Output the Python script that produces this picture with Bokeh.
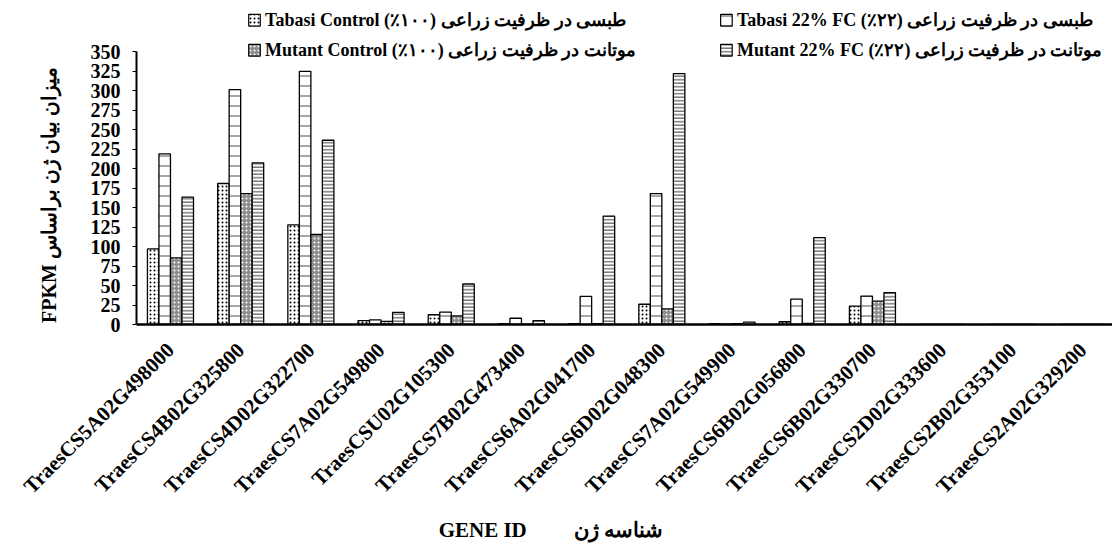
from math import pi
from bokeh.plotting import figure
from bokeh.models import Range1d, FixedTicker, Label
from bokeh.embed import file_html
from bokeh.resources import INLINE

genes = ["TraesCS5A02G498000", "TraesCS4B02G325800", "TraesCS4D02G322700",
         "TraesCS7A02G549800", "TraesCSU02G105300", "TraesCS7B02G473400",
         "TraesCS6A02G041700", "TraesCS6D02G048300", "TraesCS7A02G549900",
         "TraesCS6B02G056800", "TraesCS6B02G330700", "TraesCS2D02G333600",
         "TraesCS2B02G353100", "TraesCS2A02G329200"]

tabasi_control = [97, 181, 128, 5, 12.5, 1, 1, 26, 1, 3.5, 23.5, 0, 0, 0]
tabasi_22fc = [219, 301.5, 325, 6, 16, 8, 36, 168, 0.3, 32.5, 36.5, 0, 0, 0]
mutant_control = [85.5, 168, 115.5, 4, 11, 0.3, 1, 20, 1, 1.5, 30, 0, 0, 0]
mutant_22fc = [163.5, 207.5, 236.5, 15.5, 52, 5, 139, 322, 3, 111.5, 41, 0, 0, 0]

series_names = [
    "Tabasi Control (٪۱۰۰) طبسی در ظرفیت زراعی",
    "Tabasi 22% FC (٪۲۲) طبسی در ظرفیت زراعی",
    "Mutant Control (٪۱۰۰) موتانت در ظرفیت زراعی",
    "Mutant 22% FC (٪۲۲) موتانت در ظرفیت زراعی",
]
y_ticks = list(range(0, 351, 25))
NB = "\u00a0"
y_title = "FPKM" + NB + "میزان بیان ژن براساس" + NB * 13
x_title = "GENE ID" + NB * 9 + "شناسه ژن" + NB * 28

SERIF = "Liberation Serif"

styles = [
    dict(fill_color="white", hatch_pattern="dot", hatch_color="black", hatch_scale=4, hatch_weight=3),
    dict(fill_color="white", hatch_pattern="horizontal_line", hatch_color="#8a8a8a", hatch_scale=10, hatch_weight=1.5),
    dict(fill_color="#8c8c8c", hatch_pattern="dot", hatch_color="white", hatch_scale=4, hatch_weight=1.5),
    dict(fill_color="white", hatch_pattern="horizontal_line", hatch_color="#7a7a7a", hatch_scale=3.5, hatch_weight=1.5),
]

p = figure(width=1112, height=544, output_backend="svg", toolbar_location=None,
           x_range=Range1d(-0.484, 13.42), y_range=Range1d(0, 415.9),
           min_border_left=136, min_border_right=0, min_border_top=0, min_border_bottom=220)
p.outline_line_color = None
p.xgrid.visible = False
p.ygrid.visible = False
p.background_fill_color = "white"

bar_w = 0.164
offsets = [-1.5 * bar_w, -0.5 * bar_w, 0.5 * bar_w, 1.5 * bar_w]
all_series = [tabasi_control, tabasi_22fc, mutant_control, mutant_22fc]
xs = list(range(len(genes)))
for vals, off, st in zip(all_series, offsets, styles):
    p.vbar(x=[x + off for x in xs], top=vals, bottom=0, width=bar_w,
           line_color="black", line_width=1.3, **st)

# y axis
p.yaxis.bounds = (0, 350)
p.yaxis.ticker = FixedTicker(ticks=y_ticks)
p.yaxis.axis_line_width = 2
p.yaxis.axis_line_color = "black"
p.yaxis.major_tick_in = 0
p.yaxis.major_tick_out = 4
p.yaxis.minor_tick_out = 0
p.yaxis.minor_tick_in = 0
p.yaxis.major_label_standoff = 12
p.yaxis.major_label_text_font = SERIF
p.yaxis.major_label_text_font_style = "bold"
p.yaxis.major_label_text_font_size = "20px"
p.yaxis.major_label_text_color = "black"
p.yaxis.axis_label = y_title
p.yaxis.axis_label_text_font = SERIF
p.yaxis.axis_label_text_font_style = "bold"
p.yaxis.axis_label_text_font_size = "20px"
p.yaxis.axis_label_text_color = "black"
p.yaxis.axis_label_standoff = 28

# x axis
p.xaxis.ticker = FixedTicker(ticks=xs)
p.xaxis.major_label_overrides = {i: g for i, g in enumerate(genes)}
p.xaxis.major_label_orientation = pi / 4
p.xaxis.major_label_text_align = "right"
p.xaxis.major_label_text_baseline = "middle"
p.xaxis.axis_line_width = 2.5
p.xaxis.axis_line_color = "black"
p.xaxis.major_tick_in = 0
p.xaxis.major_tick_out = 0
p.xaxis.minor_tick_out = 0
p.xaxis.minor_tick_in = 0
p.xaxis.major_label_standoff = 22
p.xaxis.major_label_text_font = SERIF
p.xaxis.major_label_text_font_style = "bold"
p.xaxis.major_label_text_font_size = "21px"
p.xaxis.major_label_text_color = "black"
p.xaxis.axis_label = x_title
p.xaxis.axis_label_text_font = SERIF
p.xaxis.axis_label_text_font_style = "bold"
p.xaxis.axis_label_text_font_size = "21px"
p.xaxis.axis_label_text_color = "black"
p.xaxis.axis_label_standoff = 8

# legend (manual, two columns)
leg_x_box = [1.197, 7.92, 1.197, 7.92]
leg_y = [390.6, 390.6, 352.1, 352.1]
for i in range(4):
    st = styles[i]
    p.rect(x=[leg_x_box[i]], y=[leg_y[i]], width=0.165, height=15.0,
           line_color="black", line_width=1.2, **st)
    p.add_layout(Label(x=leg_x_box[i] + 0.15, y=leg_y[i], text=series_names[i],
                       text_font=SERIF, text_font_style="bold", text_font_size="18px",
                       text_baseline="middle", text_align="left", text_color="black"))

open("out.html", "w").write(file_html(p, INLINE))
